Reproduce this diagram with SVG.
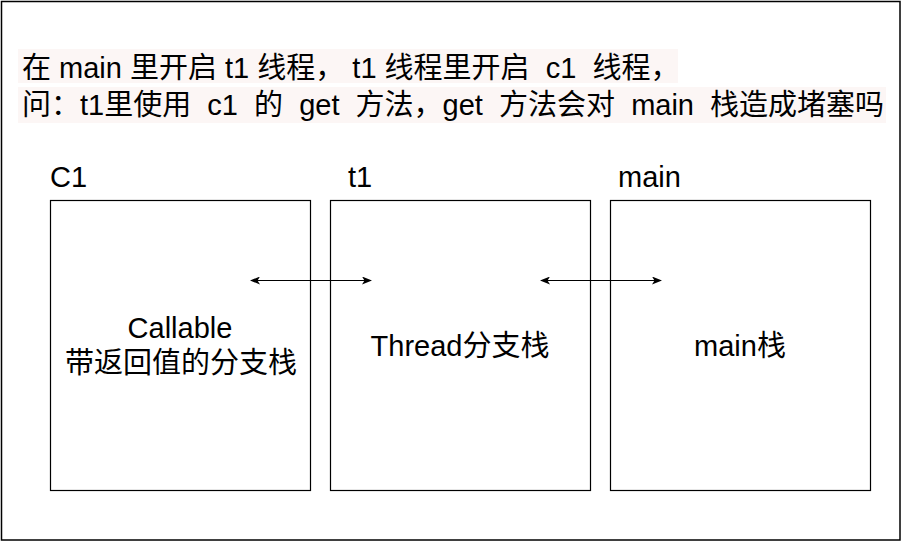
<svg xmlns="http://www.w3.org/2000/svg" width="902" height="542" viewBox="0 0 902 542">
<defs>
<style>
.t{font-family:"Liberation Sans","Noto Sans CJK SC",sans-serif;font-size:29px;fill:#000;white-space:pre}
.box{fill:#fff;stroke:#000;stroke-width:1.2}
.conn{stroke:#000;stroke-width:1.2;fill:none}
</style>
<marker id="ah" viewBox="0 0 10 8" refX="9" refY="4" markerWidth="10" markerHeight="8" markerUnits="userSpaceOnUse" orient="auto-start-reverse">
<path d="M0,0 L10,4 L0,8 L2.5,4 Z" fill="#000"/>
</marker>
</defs>
<rect x="0" y="0" width="902" height="542" fill="#fff"/>
<rect x="1.5" y="1.5" width="898.5" height="538.5" fill="none" stroke="#000" stroke-width="1.5"/>
<g id="question">
<rect x="18" y="49" width="660" height="34" fill="#fcf6f5"/>
<rect x="18" y="87" width="868" height="36" fill="#fcf6f5"/>
<text class="t" x="22" y="78">在 main 里开启 t1 线程， t1 线程里开启  c1  线程，</text>
<text class="t" x="22" y="115">问：t1里使用  c1  的  get  方法，get  方法会对  main  栈造成堵塞吗</text>
</g>
<g id="node-c1">
<text class="t" x="50" y="187">C1</text>
<rect class="box" x="50.5" y="200.5" width="260" height="290"/>
<text class="t" x="180" y="338" text-anchor="middle">Callable</text>
<text class="t" x="181" y="373" text-anchor="middle">带返回值的分支栈</text>
</g>
<g id="node-t1">
<text class="t" x="348" y="187">t1</text>
<rect class="box" x="330.5" y="200.5" width="260" height="290"/>
<text class="t" x="460" y="356" text-anchor="middle">Thread分支栈</text>
</g>
<g id="node-main">
<text class="t" x="618" y="187">main</text>
<rect class="box" x="610.5" y="200.5" width="260" height="290"/>
<text class="t" x="740" y="356" text-anchor="middle">main栈</text>
</g>
<g id="connectors">
<line class="conn" x1="251" y1="280.5" x2="371" y2="280.5" marker-start="url(#ah)" marker-end="url(#ah)"/>
<line class="conn" x1="541" y1="280.5" x2="661" y2="280.5" marker-start="url(#ah)" marker-end="url(#ah)"/>
</g>
</svg>
